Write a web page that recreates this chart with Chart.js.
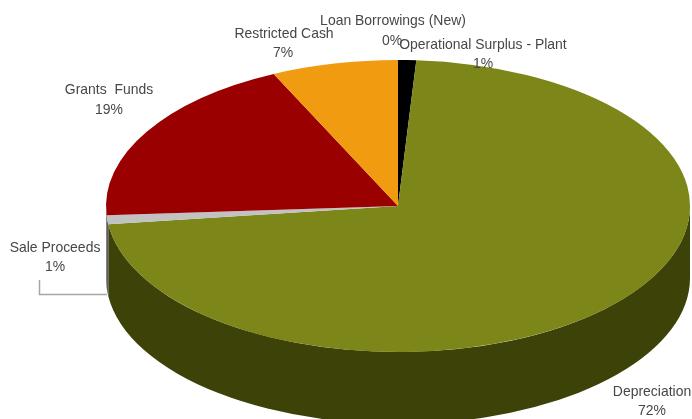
<!DOCTYPE html>
<html>
<head>
<meta charset="utf-8">
<style>
  html, body { margin: 0; padding: 0; background: #fff; }
  #wrap { width: 692px; height: 419px; overflow: hidden; }
</style>
</head>
<body>
<div id="wrap"><canvas id="fundingPie" width="692" height="419"></canvas></div>
<script src="https://cdn.jsdelivr.net/npm/chart.js@4"></script>
<script>
// Funding sources, clockwise from twelve o'clock
const categories = ["Loan Borrowings (New)", "Operational Surplus - Plant", "Depreciation", "Sale Proceeds", "Grants  Funds", "Restricted Cash"];
const shares = [0, 1, 72, 1, 19, 7];
const topColors = ["#1f3864", "#000000", "#7d8618", "#c2c2c2", "#9a0000", "#f09b10"];
const sideColors = ["#141f38", "#000000", "#3d4208", "#5e5e5e", "#5e5a5a", "#7a4f08"];

// Where each label's two lines are centred: [x, first line y, second line x, second line y]
const labelSpots = [
  [393, 21, 392, 41],
  [483, 45, 483, 64],
  [652, 392, 652, 411],
  [55, 248, 55, 267],
  [109, 90, 109, 110],
  [284, 34, 283, 53]
];

const xStretch = 2;    // pie is tilted by stretching it sideways
const wallDepth = 72;  // height of the rim below the top face
const textSqueeze = 0.93; // labels are set slightly condensed

// Tilted look: rim first, then the slices squeezed into an ellipse
const tiltPlugin = {
  id: "tilt",
  beforeDatasetsDraw(chart) {
    const ctx = chart.ctx;
    const arcs = chart.getDatasetMeta(0).data;
    const cx = arcs[0].x;
    ctx.save();
    ctx.translate(cx, 0);
    ctx.scale(xStretch, 1);
    ctx.translate(-cx, 0);
    arcs.forEach((arc, i) => {
      // only the front half of the rim can be seen
      const from = Math.max(arc.startAngle, 0);
      const to = Math.min(arc.endAngle, Math.PI);
      if (to <= from) return;
      ctx.beginPath();
      ctx.arc(arc.x, arc.y, arc.outerRadius, from, to);
      ctx.arc(arc.x, arc.y + wallDepth, arc.outerRadius, to, from, true);
      ctx.closePath();
      ctx.fillStyle = sideColors[i];
      ctx.fill();
    });
  },
  afterDatasetsDraw(chart) {
    chart.ctx.restore();
  }
};

function condensedText(ctx, text, x, y) {
  ctx.save();
  ctx.translate(x, y);
  ctx.scale(textSqueeze, 1);
  ctx.fillText(text, 0, 0);
  ctx.restore();
}

// Two-line labels and the leader for Sale Proceeds
const labelPlugin = {
  id: "sliceLabels",
  afterDraw(chart) {
    const ctx = chart.ctx;
    ctx.save();
    ctx.strokeStyle = "#a6a6a6";
    ctx.lineWidth = 1.5;
    ctx.beginPath();
    ctx.moveTo(39.5, 280);
    ctx.lineTo(39.5, 294.5);
    ctx.lineTo(107, 294.5);
    ctx.stroke();

    ctx.font = '15px "Liberation Sans", Arial, sans-serif';
    ctx.fillStyle = "#474747";
    ctx.textAlign = "center";
    ctx.textBaseline = "middle";
    categories.forEach((name, i) => {
      const spot = labelSpots[i];
      condensedText(ctx, name, spot[0], spot[1]);
      condensedText(ctx, shares[i] + "%", spot[2], spot[3]);
    });
    ctx.restore();
  }
};

new Chart(document.getElementById("fundingPie"), {
  type: "pie",
  data: {
    labels: categories,
    datasets: [{
      data: shares,
      backgroundColor: topColors,
      borderWidth: 0
    }]
  },
  options: {
    responsive: false,
    animation: false,
    layout: { padding: { left: 252, right: 148, top: 60, bottom: 67 } },
    plugins: {
      legend: { display: false },
      title: { display: false },
      tooltip: { enabled: false }
    }
  },
  plugins: [tiltPlugin, labelPlugin]
});
</script>
</body>
</html>
